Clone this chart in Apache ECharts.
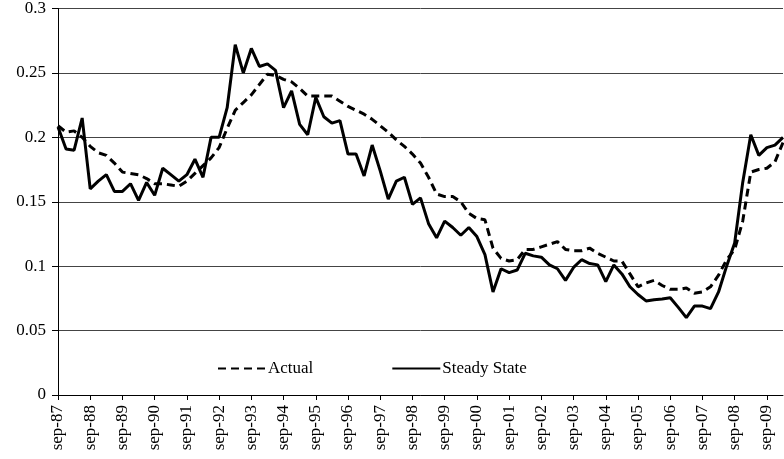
<!DOCTYPE html>
<html>
<head>
<meta charset="utf-8">
<script src="https://cdn.jsdelivr.net/npm/echarts@6/dist/echarts.min.js"></script>
<style>
html,body{margin:0;padding:0;background:#fff;}
#chart{width:784px;height:459px;}
</style>
</head>
<body>
<div id="chart"></div>
<script>
const categories = [
"sep-87","dec-87","mar-88","jun-88","sep-88","dec-88","mar-89","jun-89",
"sep-89","dec-89","mar-90","jun-90","sep-90","dec-90","mar-91","jun-91",
"sep-91","dec-91","mar-92","jun-92","sep-92","dec-92","mar-93","jun-93",
"sep-93","dec-93","mar-94","jun-94","sep-94","dec-94","mar-95","jun-95",
"sep-95","dec-95","mar-96","jun-96","sep-96","dec-96","mar-97","jun-97",
"sep-97","dec-97","mar-98","jun-98","sep-98","dec-98","mar-99","jun-99",
"sep-99","dec-99","mar-00","jun-00","sep-00","dec-00","mar-01","jun-01",
"sep-01","dec-01","mar-02","jun-02","sep-02","dec-02","mar-03","jun-03",
"sep-03","dec-03","mar-04","jun-04","sep-04","dec-04","mar-05","jun-05",
"sep-05","dec-05","mar-06","jun-06","sep-06","dec-06","mar-07","jun-07",
"sep-07","dec-07","mar-08","jun-08","sep-08","dec-08","mar-09","jun-09",
"sep-09","dec-09","mar-10"
];

const actual = [
0.209,0.204,0.205,0.200,0.193,0.188,0.186,0.180,
0.173,0.172,0.171,0.168,0.164,0.164,0.163,0.162,
0.166,0.172,0.178,0.184,0.192,0.207,0.221,0.227,
0.233,0.241,0.249,0.248,0.245,0.243,0.238,0.232,
0.232,0.232,0.232,0.228,0.224,0.221,0.218,0.214,
0.209,0.204,0.198,0.193,0.187,0.180,0.169,0.156,
0.154,0.154,0.150,0.141,0.137,0.136,0.114,0.106,
0.104,0.105,0.113,0.113,0.115,0.117,0.119,0.113,
0.112,0.112,0.114,0.110,0.107,0.104,0.104,0.094,
0.084,0.087,0.089,0.085,0.082,0.082,0.083,0.079,
0.080,0.084,0.093,0.105,0.113,0.135,0.173,0.175,
0.176,0.181,0.196
];

const steadyState = [
0.208,0.191,0.190,0.215,0.160,0.166,0.171,0.158,
0.158,0.164,0.151,0.165,0.155,0.176,0.171,0.166,
0.171,0.183,0.169,0.200,0.200,0.223,0.272,0.250,
0.269,0.255,0.257,0.252,0.223,0.236,0.210,0.202,
0.231,0.216,0.211,0.213,0.187,0.187,0.170,0.194,
0.174,0.152,0.166,0.169,0.148,0.153,0.133,0.122,
0.135,0.130,0.124,0.130,0.123,0.109,0.080,0.098,
0.095,0.097,0.110,0.108,0.107,0.101,0.098,0.089,
0.099,0.105,0.102,0.101,0.088,0.101,0.094,0.084,
0.078,0.073,0.074,0.0745,0.0755,0.068,0.060,0.069,
0.069,0.067,0.080,0.100,0.118,0.165,0.202,0.186,
0.192,0.194,0.200
];

const seriesNames = ["Actual", "Steady State"];
const yTicks = [0, 0.05, 0.1, 0.15, 0.2, 0.25, 0.3];

const FONT = "'Liberation Serif', 'Times New Roman', serif";
const chart = echarts.init(document.getElementById('chart'), null, {renderer: 'canvas'});
chart.setOption({
  animation: false,
  backgroundColor: '#fff',
  textStyle: {fontFamily: FONT, color: '#000'},
  grid: {left: 58, right: 1, top: 7, bottom: 64, containLabel: false},
  legend: {
    left: 212, top: 355,
    itemWidth: 48, itemHeight: 8, itemGap: 78,
    itemStyle: {opacity: 0},
    textStyle: {fontFamily: FONT, fontSize: 17, color: '#000', padding: [0,0,0,-3]},
    data: seriesNames
  },
  xAxis: {
    type: 'category',
    data: categories,
    boundaryGap: false,
    axisLine: {lineStyle: {color: '#000', width: 1}},
    axisTick: {show: true, interval: 3, length: 5, lineStyle: {color: '#000'}},
    axisLabel: {interval: 3, rotate: 90, margin: 10, fontFamily: FONT, fontSize: 17, color: '#000'},
    splitLine: {show: false}
  },
  yAxis: {
    type: 'value',
    min: yTicks[0], max: yTicks[yTicks.length-1], interval: 0.05,
    axisLine: {show: true, lineStyle: {color: '#000', width: 1}},
    axisTick: {show: true, length: 6, lineStyle: {color: '#000'}},
    axisLabel: {margin: 12, fontFamily: FONT, fontSize: 17, color: '#000',
      formatter: v => String(parseFloat(v.toFixed(2)))},
    splitLine: {show: true, lineStyle: {color: '#444', width: 1}}
  },
  series: [
    {
      name: seriesNames[0], type: 'line', data: actual,
      symbol: 'none', smooth: false,
      lineStyle: {color: '#000', width: 3, type: [8, 5]},
      itemStyle: {color: '#000'}
    },
    {
      name: seriesNames[1], type: 'line', data: steadyState,
      symbol: 'none', smooth: false,
      lineStyle: {color: '#000', width: 3, type: 'solid'},
      itemStyle: {color: '#000'}
    }
  ]
});
</script>
</body>
</html>
